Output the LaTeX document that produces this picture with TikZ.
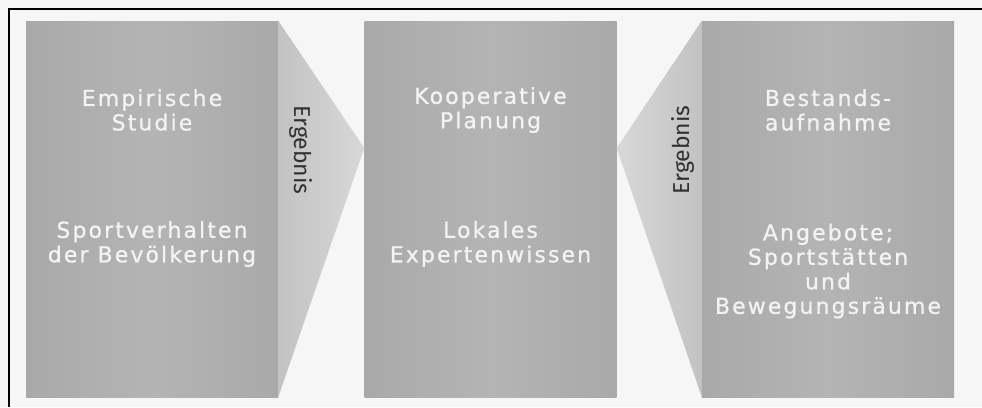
\documentclass[tikz,border=0pt]{standalone}
\usepackage{fontspec}
\setmainfont{Fira Sans}
\newfontfamily\panelfont[LetterSpace=9.5, FakeBold=0.8]{DejaVu Sans}
\usetikzlibrary{calc}
\definecolor{paper}{HTML}{F6F6F6}
\definecolor{boxgray}{HTML}{A9A9A9}
\definecolor{boxlight}{HTML}{B4B4B4}
\definecolor{wedgegray}{HTML}{C2C2C2}
\definecolor{wedgelight}{HTML}{D8D8D8}
\definecolor{labelwhite}{HTML}{F3F3F3}
\definecolor{darktext}{HTML}{303030}
\tikzset{
  panel/.style={rectangle, inner sep=0pt, minimum width=252pt, minimum height=376pt,
    left color=boxgray, right color=boxgray, middle color=boxlight},
  paneltext/.style={align=center, text=labelwhite, inner sep=0pt,
    font=\panelfont\fontsize{22}{24.5}\selectfont},
  resulttext/.style={text=darktext, font=\fontsize{23}{26}\selectfont, inner sep=0pt},
  frame/.style={line width=2.2pt, black}
}
\begin{document}
\begin{tikzpicture}[x=1pt, y=-1pt]
  \useasboundingbox (0,0) rectangle (982,407);
  \fill[paper] (0,0) rectangle (982,407);
  % scan frame: top and left edges
  \draw[frame] (8,9) -- (982,9);
  \draw[frame] (9,8) -- (9,407);

  % the three panels
  \node[panel] (b1) at (152,209) {};
  \node[panel] (b2) at (490.5,209) {};
  \node[panel] (b3) at (828,209) {};

  % wedges pointing into the middle panel
  \coordinate (tipA) at ($(b2.north west)!0.338!(b2.south west)$);
  \coordinate (tipB) at ($(b2.north east)!0.338!(b2.south east)$);
  \shade[left color=wedgegray, right color=wedgelight]
    (b1.north east) -- (tipA) -- (b1.south east) -- cycle;
  \shade[right color=wedgegray, left color=wedgelight]
    (b3.north west) -- (tipB) -- (b3.south west) -- cycle;

  \node[resulttext, rotate=-90] (r1) at (301,150) {Ergebnis};
  \node[resulttext, rotate=90] (r2) at (683,150) {Ergebnis};

  % panel captions
  \node[paneltext] (t1) at (152,110) {Empirische\\Studie};
  \node[paneltext] (u1) at (152,244) {Sportverhalten\\der Bevölkerung};
  \node[paneltext] (t2) at (490.5,110) {Kooperative\\Planung};
  \node[paneltext] (u2) at (490.5,244) {Lokales\\Expertenwissen};
  \node[paneltext] (t3) at (828,110) {Bestands-\\aufnahme};
  \node[paneltext] (u3) at (828,271) {Angebote;\\Sportstätten\\und\\Bewegungsräume};
\end{tikzpicture}
\end{document}
